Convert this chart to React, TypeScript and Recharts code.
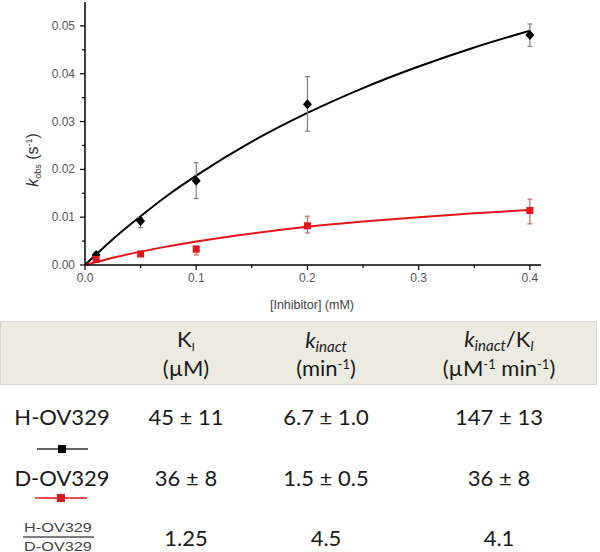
import { ComposedChart, Line, Scatter, XAxis, YAxis, ErrorBar } from 'recharts';

// measured points (inhibitor in mM, kobs in s^-1)
const concentrations = [0.01, 0.05, 0.1, 0.2, 0.4];
const hKobs = [0.0021, 0.0092, 0.0176, 0.0336, 0.0481];
const hLow = [0.0017, 0.0078, 0.0139, 0.028, 0.0457];
const hHigh = [0.0025, 0.0099, 0.0214, 0.0394, 0.0504];
const dKobs = [0.0012, 0.0023, 0.0033, 0.0082, 0.0114];
const dLow = [0.0009, 0.0019, 0.0021, 0.0067, 0.0086];
const dHigh = [0.0015, 0.0027, 0.004, 0.0102, 0.0138];

// fitted curves
const fitX = [0, 0.01, 0.025, 0.05, 0.075, 0.1, 0.15, 0.2, 0.25, 0.3, 0.35, 0.4];
const hFit = [0, 0.0022, 0.0054, 0.0102, 0.0147, 0.0187, 0.0258, 0.0318, 0.037, 0.0415, 0.0455, 0.049];
const dFit = [0, 0.0006, 0.0015, 0.0028, 0.0039, 0.0049, 0.0066, 0.008, 0.0091, 0.01, 0.0108, 0.0115];

const xTicks = [0, 0.05, 0.1, 0.15, 0.2, 0.25, 0.3, 0.35, 0.4];
const yTicks = [0, 0.005, 0.01, 0.015, 0.02, 0.025, 0.03, 0.035, 0.04, 0.045, 0.05];

// table
const compounds = ['H-OV329', 'D-OV329'];
const kiValues = ['45 ± 11', '36 ± 8'];
const kinactValues = ['6.7 ± 1.0', '1.5 ± 0.5'];
const efficiencyValues = ['147 ± 13', '36 ± 8'];
const isotopeRatios = ['1.25', '4.5', '4.1'];

const hPoints = concentrations.map((x, i) => ({
  x,
  y: hKobs[i],
  err: [hKobs[i] - hLow[i], hHigh[i] - hKobs[i]],
}));
const dPoints = concentrations.map((x, i) => ({
  x,
  y: dKobs[i],
  err: [dKobs[i] - dLow[i], dHigh[i] - dKobs[i]],
}));
const hCurve = fitX.map((x, i) => ({ x, y: hFit[i] }));
const dCurve = fitX.map((x, i) => ({ x, y: dFit[i] }));

const axisFont = '"Liberation Sans", Arial, sans-serif';
const tableFont = 'Lato, "Open Sans", sans-serif';

const XTick = (p: any) => {
  const v = p.payload.value;
  const major = Math.round(v * 100) % 10 === 0;
  return (
    <g>
      <line x1={p.x} x2={p.x} y1={p.y} y2={p.y + (major ? 5 : 3)} stroke="#000" strokeWidth={1.2} />
      {major && (
        <text x={p.x} y={p.y + 17} textAnchor="middle" fill="#555" fontSize={12} fontFamily={axisFont}>
          {v.toFixed(1)}
        </text>
      )}
    </g>
  );
};

const YTick = (p: any) => {
  const v = p.payload.value;
  const major = Math.round(v * 1000) % 10 === 0;
  return (
    <g>
      <line x1={p.x} x2={p.x - (major ? 5 : 3)} y1={p.y} y2={p.y} stroke="#000" strokeWidth={1.2} />
      {major && (
        <text x={p.x - 10} y={p.y + 4} textAnchor="end" fill="#555" fontSize={12} fontFamily={axisFont}>
          {v.toFixed(2)}
        </text>
      )}
    </g>
  );
};

const Diamond = (p: any) => (
  <path
    d={`M${p.cx},${p.cy - 5} L${p.cx + 4.5},${p.cy} L${p.cx},${p.cy + 5} L${p.cx - 4.5},${p.cy} Z`}
    fill="#000"
  />
);

const Square = (p: any) => (
  <rect x={p.cx - 3.5} y={p.cy - 3.5} width={7} height={7} fill="#e8141b" />
);

const cell = (x: number, y: number, extra: any = {}) => ({
  position: 'absolute' as const,
  left: x,
  top: y,
  transform: 'translate(-50%, -50%)',
  whiteSpace: 'nowrap' as const,
  fontFamily: tableFont,
  fontSize: 22,
  lineHeight: 1,
  color: '#1a1a1a',
  ...extra,
});

const lowered = (size: number, dy: number) => ({
  fontSize: size,
  position: 'relative' as const,
  top: dy,
  lineHeight: 1,
});

const colX = [62, 186, 326, 499];
const rowY = [417, 478];

export default function App() {
  return (
    <div style={{ position: 'absolute', left: 0, top: 0, width: 600, height: 552, background: '#fff', overflow: 'hidden' }}>
      <ComposedChart width={600} height={300} margin={{ top: 2, right: 59, left: 25, bottom: 5 }}>
        <XAxis
          dataKey="x"
          type="number"
          domain={[0, 0.41]}
          allowDataOverflow
          ticks={xTicks}
          interval={0}
          tickSize={0}
          tickMargin={0}
          tick={(p: any) => <XTick {...p} />}
          axisLine={{ stroke: '#000', strokeWidth: 1.5 }}
          height={30}
        />
        <YAxis
          dataKey="y"
          type="number"
          domain={[0, 0.055]}
          allowDataOverflow
          ticks={yTicks}
          interval={0}
          tickSize={0}
          tickMargin={0}
          tick={(p: any) => <YTick {...p} />}
          axisLine={{ stroke: '#000', strokeWidth: 1.5 }}
          width={60}
        />
        <Line data={hCurve} dataKey="y" type="monotone" stroke="#000" strokeWidth={2} dot={false} isAnimationActive={false} />
        <Line data={dCurve} dataKey="y" type="monotone" stroke="#e8141b" strokeWidth={2} dot={false} isAnimationActive={false} />
        <Scatter data={hPoints} dataKey="y" shape={(p: any) => <Diamond {...p} />} isAnimationActive={false}>
          <ErrorBar dataKey="err" direction="y" width={2.5} stroke="#808080" strokeWidth={1.2} isAnimationActive={false} />
        </Scatter>
        <Scatter data={dPoints} dataKey="y" shape={(p: any) => <Square {...p} />} isAnimationActive={false}>
          <ErrorBar dataKey="err" direction="y" width={2.5} stroke="#b86a6a" strokeWidth={1.2} isAnimationActive={false} />
        </Scatter>
      </ComposedChart>

      {/* axis titles */}
      <div style={{ position: 'absolute', left: 312, top: 305, transform: 'translate(-50%, -50%)', fontFamily: axisFont, fontSize: 12.5, color: '#444', whiteSpace: 'nowrap' }}>
        [Inhibitor] (mM)
      </div>
      <div
        style={{
          position: 'absolute',
          left: 33,
          top: 160,
          transform: 'translate(-50%, -50%) rotate(-90deg)',
          fontFamily: axisFont,
          fontSize: 16,
          color: '#333',
          whiteSpace: 'nowrap',
        }}
      >
        <i>k</i>
        <span style={lowered(9, 3)}>obs</span> (s<span style={lowered(9, -6)}>-1</span>)
      </div>

      {/* header band */}
      <div style={{ position: 'absolute', left: 0, top: 321, width: 597, height: 64, background: '#ecebe1', border: '1px solid #d9d7cd', boxSizing: 'border-box' }} />
      <div style={cell(colX[1], 339)}>
        K<span style={lowered(12, 4)}>I</span>
      </div>
      <div style={cell(colX[1], 368)}>(µM)</div>
      <div style={cell(colX[2], 340)}>
        <i>k</i>
        <span style={lowered(15, 4)}>
          <i>inact</i>
        </span>
      </div>
      <div style={cell(colX[2], 368)}>
        (min<span style={lowered(13, -7)}>-1</span>)
      </div>
      <div style={cell(colX[3], 339)}>
        <i>k</i>
        <span style={lowered(15, 4)}>
          <i>inact</i>
        </span>
        /K<span style={lowered(13, 4)}><i>I</i></span>
      </div>
      <div style={cell(colX[3], 368)}>
        (µM<span style={lowered(13, -7)}>-1</span> min<span style={lowered(13, -7)}>-1</span>)
      </div>

      {/* rows */}
      {compounds.map((c, i) => (
        <div key={c}>
          <div style={cell(colX[0], rowY[i])}>{c}</div>
          <div style={cell(colX[1], rowY[i])}>{kiValues[i]}</div>
          <div style={cell(colX[2], rowY[i])}>{kinactValues[i]}</div>
          <div style={cell(colX[3], rowY[i])}>{efficiencyValues[i]}</div>
        </div>
      ))}

      {/* legend keys */}
      <svg style={{ position: 'absolute', left: 0, top: 0 }} width={600} height={552}>
        <line x1={37} x2={88} y1={449} y2={449} stroke="#333" strokeWidth={1.5} />
        <rect x={58} y={445} width={8} height={8} fill="#000" />
        <line x1={35} x2={87} y1={498} y2={498} stroke="#e8141b" strokeWidth={1.5} />
        <rect x={57} y={494} width={8} height={8} fill="#e8141b" />
        <line x1={23} x2={94} y1={537} y2={537} stroke="#555" strokeWidth={1.5} />
      </svg>

      {/* isotope ratio row */}
      <div style={cell(58, 527, { fontFamily: axisFont, fontSize: 13, color: '#444', transform: 'translate(-50%, -50%) scaleX(1.25)' })}>H-OV329</div>
      <div style={cell(58, 546, { fontFamily: axisFont, fontSize: 13, color: '#444', transform: 'translate(-50%, -50%) scaleX(1.25)' })}>D-OV329</div>
      <div style={cell(colX[1], 538)}>{isotopeRatios[0]}</div>
      <div style={cell(colX[2], 538)}>{isotopeRatios[1]}</div>
      <div style={cell(colX[3], 538)}>{isotopeRatios[2]}</div>
    </div>
  );
}
